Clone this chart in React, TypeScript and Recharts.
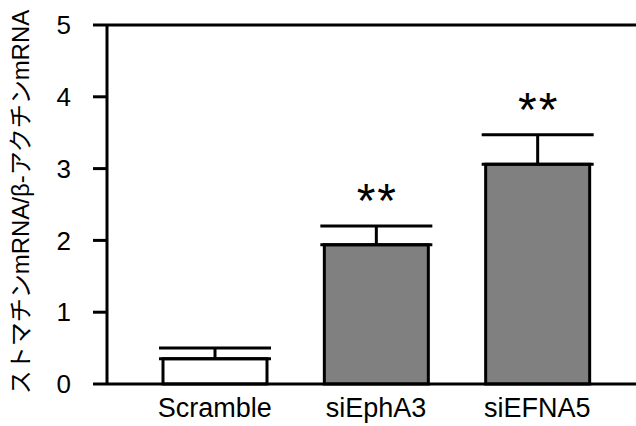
import { BarChart, Bar, XAxis, YAxis, Cell, ErrorBar, LabelList, ReferenceLine } from 'recharts';

const groups = ['Scramble', 'siEphA3', 'siEFNA5'];
const ratios = [0.35, 1.94, 3.06];
const upperErrors = [0.15, 0.26, 0.41];
const marks = ['', '**', '**'];
const barFills = ['#ffffff', '#808080', '#808080'];
const yTicks = [0, 1, 2, 3, 4, 5];
const yTitle = 'ストマチンmRNA/β-アクチンmRNA';

const data = groups.map((name, i) => ({
    name,
    value: ratios[i],
    err: [0, upperErrors[i]],
    mark: marks[i],
}));

const font = '"Liberation Sans", Arial, "Noto Sans CJK JP", sans-serif';

const StarLabel = ({ x, y, width, height, value, index }: any) => {
    if (!value) return null;
    const pxPerUnit = height / ratios[index];
    const top = y - upperErrors[index] * pxPerUnit;
    return (
        <text
            x={x + width / 2 + 1}
            y={top - 9}
            textAnchor="middle"
            fontSize={48}
            letterSpacing={2}
            fontFamily={font}
            fill="#000"
        >
            {value}
        </text>
    );
};

const YTitle = () => (
    <text
        x={20}
        y={202}
        transform="rotate(-90, 20, 202)"
        textAnchor="middle"
        dominantBaseline="central"
        fontSize={24}
        fontFamily={font}
        fill="#000"
    >
        {yTitle}
    </text>
);

export default function App() {
    return (
        <div style={{ position: 'absolute', left: 0, top: 0, width: 636, height: 426, background: '#fff' }}>
            <BarChart width={636} height={426} data={data} margin={{ top: 25, right: 0, left: 0, bottom: 0 }}>
                <XAxis
                    dataKey="name"
                    padding={{ left: 27, right: 18 }}
                    height={42}
                    tickLine={false}
                    tickSize={0}
                    tickMargin={14}
                    axisLine={{ stroke: '#000', strokeWidth: 3 }}
                    tick={{ fill: '#000', fontSize: 27, fontFamily: font }}
                />
                <YAxis
                    width={107}
                    domain={[0, 5]}
                    ticks={yTicks}
                    tickSize={14}
                    tickMargin={22}
                    axisLine={{ stroke: '#000', strokeWidth: 3 }}
                    tickLine={{ stroke: '#000', strokeWidth: 3 }}
                    tick={{ fill: '#000', fontSize: 26, fontFamily: font }}
                    label={{ content: <YTitle /> }}
                />
                <ReferenceLine y={5} stroke="#000" strokeWidth={3} />
                <Bar dataKey="value" barSize={104} stroke="#000" strokeWidth={3} isAnimationActive={false}>
                    {data.map((d, i) => (
                        <Cell key={d.name} fill={barFills[i]} />
                    ))}
                    <ErrorBar dataKey="err" direction="y" width={56} stroke="#000" strokeWidth={3} />
                    <LabelList dataKey="mark" content={<StarLabel />} />
                </Bar>
            </BarChart>
        </div>
    );
}
